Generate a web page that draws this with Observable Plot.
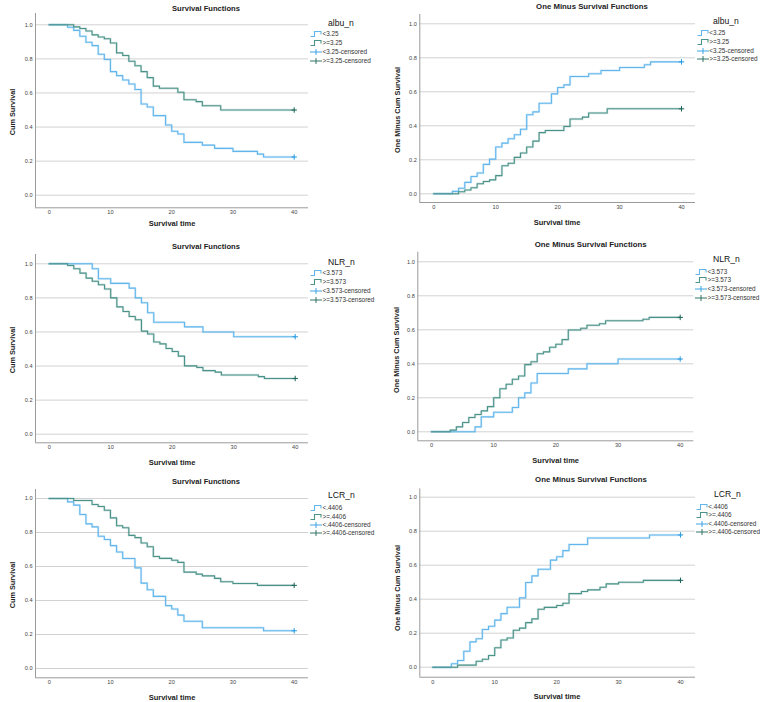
<!DOCTYPE html>
<html><head><meta charset="utf-8">
<script src="https://cdn.jsdelivr.net/npm/d3@7"></script>
<script src="https://cdn.jsdelivr.net/npm/@observablehq/plot@0.6"></script>
<style>
body{margin:0;background:#fff;}
#root{position:relative;width:760px;height:702px;overflow:hidden;font-family:"Liberation Sans",Arial,sans-serif;}
.t{position:absolute;white-space:nowrap;line-height:1;}
.p{position:absolute;}
</style></head><body><div id="root"></div>
<script>
// ---- data ----
const xTicks = [0, 10, 20, 30, 40];
const yTicks = [0, 0.2, 0.4, 0.6, 0.8, 1.0];

const albuLowT  = [0,3,4,5,6,7,8,9,10,11,12,13,14,15,16,17,19,20,21,22,25,27,30,34,35,40];
const albuLowS  = [1,0.986,0.967,0.933,0.898,0.878,0.827,0.796,0.725,0.702,0.676,0.653,0.620,0.535,0.518,0.467,0.412,0.375,0.359,0.310,0.294,0.275,0.257,0.241,0.224,0.224];
const albuHighT = [0,4,5,6,7,8,9,10,11,12,13,14,15,16,17,18,21,22,24,25,28,40];
const albuHighS = [1,0.988,0.978,0.964,0.941,0.928,0.918,0.893,0.835,0.820,0.786,0.760,0.725,0.690,0.640,0.628,0.604,0.560,0.549,0.525,0.500,0.500];

const nlrLowT  = [0,7,8,10,13,14,15,16,17,22,25,30,40];
const nlrLowS  = [1,0.971,0.912,0.885,0.857,0.800,0.771,0.713,0.657,0.630,0.600,0.572,0.572];
const nlrHighT = [0,3,4,5,6,7,8,9,10,11,12,13,14,15,16,17,18,19,20,21,22,24,25,27,28,34,35,40];
const nlrHighS = [1,0.990,0.971,0.945,0.916,0.898,0.877,0.852,0.800,0.747,0.720,0.691,0.672,0.605,0.588,0.541,0.530,0.503,0.485,0.458,0.401,0.391,0.373,0.364,0.347,0.338,0.327,0.327];

const lcrLowT  = [0,3,4,5,6,7,8,9,10,11,12,14,15,16,17,19,20,21,22,25,35,40];
const lcrLowS  = [1,0.980,0.961,0.906,0.851,0.833,0.778,0.759,0.723,0.685,0.647,0.592,0.502,0.463,0.424,0.370,0.350,0.314,0.278,0.240,0.222,0.222];
const lcrHighT = [0,4,7,8,9,10,11,12,13,14,15,16,17,18,20,21,22,24,25,27,28,30,34,40];
const lcrHighS = [1,0.988,0.965,0.953,0.931,0.886,0.840,0.828,0.783,0.770,0.738,0.716,0.659,0.648,0.637,0.624,0.567,0.555,0.545,0.530,0.510,0.500,0.489,0.489];

const albuLabels = ["<3.25", ">=3.25", "<3.25-censored", ">=3.25-censored"];
const nlrLabels  = ["<3.573", ">=3.573", "<3.573-censored", ">=3.573-censored"];
const lcrLabels  = ["<.4406", ">=.4406", "<.4406-censored", ">=.4406-censored"];

const titleS = "Survival Functions";
const titleOM = "One Minus Survival Functions";
const yLabS = "Cum Survival";
const yLabOM = "One Minus Cum Survival";
const xLab = "Survival time";

// ---- styles ----
const BLUE = "#62b6ec", GREEN = "#4b9389";
const BLUE_D = "#2a9be0", GREEN_D = "#1d6558";

const root = document.getElementById("root");

function txt(x, y, s, css, align) {
  const d = document.createElement("div");
  d.className = "t";
  d.textContent = s;
  d.style.left = x + "px";
  d.style.top = y + "px";
  d.style.transform = (align === "left" ? "translate(0,-50%)" : "translate(-50%,-50%)") + (css.rot ? " rotate(-90deg)" : "");
  for (const k in css) if (k !== "rot") d.style[k] = css[k];
  root.appendChild(d);
  return d;
}

function legendSym(x, y, kind, color) {
  const ns = "http://www.w3.org/2000/svg";
  const s = document.createElementNS(ns, "svg");
  s.setAttribute("width", 13); s.setAttribute("height", 8);
  s.style.position = "absolute";
  s.style.left = x + "px"; s.style.top = (y - 4) + "px";
  const p = document.createElementNS(ns, "path");
  p.setAttribute("d", kind === "step" ? "M0.5,6.5H4.5V1.5H11V4.5" : "M0,4H12M6,1V7");
  p.setAttribute("fill", "none");
  p.setAttribute("stroke", color);
  p.setAttribute("stroke-width", kind === "step" ? 1.1 : 0.9);
  s.appendChild(p);
  root.appendChild(s);
}

function panel(g) {
  const W = 380, H = g.cellH;
  const mL = g.axisX - g.cellLeft, mR = g.cellLeft + W - g.right;
  const mT = g.top - g.cellTop, mB = g.cellTop + H - g.bottom;
  const k = (g.x40 - g.x0) / 40;
  const xd = [(g.axisX - g.x0) / k, (g.right - g.x0) / k];
  const ky = g.y0 - g.y1;
  const yd = [(g.y0 - g.bottom) / ky, (g.y0 - g.top) / ky];

  const mk = (T, S) => T.map((t, i) => ({t, s: g.oneMinus ? 1 - S[i] : S[i]}));
  const low = mk(g.lowT, g.lowS), high = mk(g.highT, g.highS);

  const chart = Plot.plot({
    width: W, height: H,
    marginLeft: mL, marginRight: mR, marginTop: mT, marginBottom: mB,
    x: {domain: xd},
    y: {domain: yd},
    style: {fontFamily: "Liberation Sans, Arial, sans-serif", fontSize: "5.6px", color: "#444", background: "transparent", overflow: "visible"},
    marks: [
      Plot.gridY(yTicks, {stroke: "#d2d2d2", strokeOpacity: 1, strokeWidth: 1}),
      Plot.ruleX([xd[0]], {stroke: "#9a9a9a", strokeWidth: 1}),
      Plot.ruleY([yd[0]], {stroke: "#9a9a9a", strokeWidth: 1}),
      Plot.axisY(yTicks, {tickSize: 0, tickPadding: 3, tickFormat: d3.format(".1f"), label: null}),
      Plot.axisX(xTicks, {tickSize: 0, tickPadding: 2.5, tickFormat: d3.format("d"), label: null}),
      Plot.line(low,  {x: "t", y: "s", curve: "step-after", stroke: BLUE, strokeWidth: 2.4, strokeOpacity: 0.25}),
      Plot.line(high, {x: "t", y: "s", curve: "step-after", stroke: GREEN, strokeWidth: 2.4, strokeOpacity: 0.22}),
      Plot.line(low,  {x: "t", y: "s", curve: "step-after", stroke: BLUE, strokeWidth: 1.1}),
      Plot.line(high, {x: "t", y: "s", curve: "step-after", stroke: GREEN, strokeWidth: 1.1}),
      Plot.dot([low[low.length - 1]],   {x: "t", y: "s", symbol: "plus", r: 1.9, stroke: BLUE_D, strokeWidth: 1}),
      Plot.dot([high[high.length - 1]], {x: "t", y: "s", symbol: "plus", r: 1.9, stroke: GREEN_D, strokeWidth: 1})
    ]
  });
  chart.classList.add("p");
  chart.style.left = g.cellLeft + "px";
  chart.style.top = g.cellTop + "px";
  root.appendChild(chart);

  txt(g.titleX, g.titleY, g.oneMinus ? titleOM : titleS, {fontSize: g.oneMinus ? "7.8px" : "7.6px", fontWeight: "bold", color: "#222"});
  txt(g.ylabX, g.ylabY, g.oneMinus ? yLabOM : yLabS, {fontSize: "7.3px", fontWeight: "bold", color: "#222", rot: true});
  txt(g.xlabX, g.xlabY, xLab, {fontSize: "7.5px", fontWeight: "bold", color: "#222"});

  txt(g.legX, g.legTitleY, g.legName, {fontSize: "8.6px", color: "#111"}, "left");
  const cols = [BLUE, GREEN, BLUE_D, GREEN_D];
  g.labels.forEach((lab, i) => {
    legendSym(g.symX, g.rows[i], i < 2 ? "step" : "plus", cols[i]);
    txt(g.symX + 12.5, g.rows[i], lab, {fontSize: "6.4px", color: "#333"}, "left");
  });
}

panel({cellLeft: 0, cellTop: 0, cellH: 230, axisX: 35, x0: 48.7, x40: 293.7, right: 308, top: 13, y1: 24.3, y0: 194.7, bottom: 207.3,
  titleX: 206, titleY: 8.5, ylabX: 13, ylabY: 112, xlabX: 172, xlabY: 224,
  legX: 328, legTitleY: 22.7, legName: "albu_n", symX: 310, rows: [34, 43.3, 52, 61], labels: albuLabels,
  lowT: albuLowT, lowS: albuLowS, highT: albuHighT, highS: albuHighS, oneMinus: false});

panel({cellLeft: 380, cellTop: 0, cellH: 230, axisX: 419.3, x0: 433.3, x40: 681, right: 695, top: 14, y1: 23.3, y0: 193.3, bottom: 202,
  titleX: 592, titleY: 7, ylabX: 398, ylabY: 110, xlabX: 557, xlabY: 222.7,
  legX: 713, legTitleY: 21, legName: "albu_n", symX: 696.7, rows: [33, 42, 51, 59.3], labels: albuLabels,
  lowT: albuLowT, lowS: albuLowS, highT: albuHighT, highS: albuHighS, oneMinus: true});

panel({cellLeft: 0, cellTop: 230, cellH: 240, axisX: 35, x0: 48.7, x40: 294.7, right: 308, top: 254, y1: 263.3, y0: 433.7, bottom: 442.3,
  titleX: 206, titleY: 247, ylabX: 13, ylabY: 350, xlabX: 172, xlabY: 463.3,
  legX: 328, legTitleY: 261.7, legName: "NLR_n", symX: 310, rows: [273.3, 282.3, 290.7, 299.7], labels: nlrLabels,
  lowT: nlrLowT, lowS: nlrLowS, highT: nlrHighT, highS: nlrHighS, oneMinus: false});

panel({cellLeft: 380, cellTop: 230, cellH: 240, axisX: 417.3, x0: 431, x40: 679.7, right: 693.3, top: 251.7, y1: 261.3, y0: 431.3, bottom: 440.3,
  titleX: 590.7, titleY: 245, ylabX: 397.3, ylabY: 350, xlabX: 555.7, xlabY: 460.7,
  legX: 713, legTitleY: 259.3, legName: "NLR_n", symX: 695, rows: [271.7, 280.3, 288.7, 297.7], labels: nlrLabels,
  lowT: nlrLowT, lowS: nlrLowS, highT: nlrHighT, highS: nlrHighS, oneMinus: true});

panel({cellLeft: 0, cellTop: 470, cellH: 232, axisX: 35, x0: 48.7, x40: 293.7, right: 308, top: 489, y1: 498, y0: 668, bottom: 677.3,
  titleX: 206, titleY: 482, ylabX: 13, ylabY: 585, xlabX: 172, xlabY: 697.5,
  legX: 328, legTitleY: 495, legName: "LCR_n", symX: 310, rows: [508.3, 516.7, 525, 533.3], labels: lcrLabels,
  lowT: lcrLowT, lowS: lcrLowS, highT: lcrHighT, highS: lcrHighS, oneMinus: false});

panel({cellLeft: 380, cellTop: 470, cellH: 232, axisX: 419.3, x0: 432.3, x40: 680, right: 695, top: 488.3, y1: 496.7, y0: 666.7, bottom: 676.7,
  titleX: 591, titleY: 480, ylabX: 398, ylabY: 588, xlabX: 557, xlabY: 696.5,
  legX: 714, legTitleY: 494, legName: "LCR_n", symX: 695.7, rows: [506.7, 515.3, 523.7, 532.3], labels: lcrLabels,
  lowT: lcrLowT, lowS: lcrLowS, highT: lcrHighT, highS: lcrHighS, oneMinus: true});
</script></body></html>
